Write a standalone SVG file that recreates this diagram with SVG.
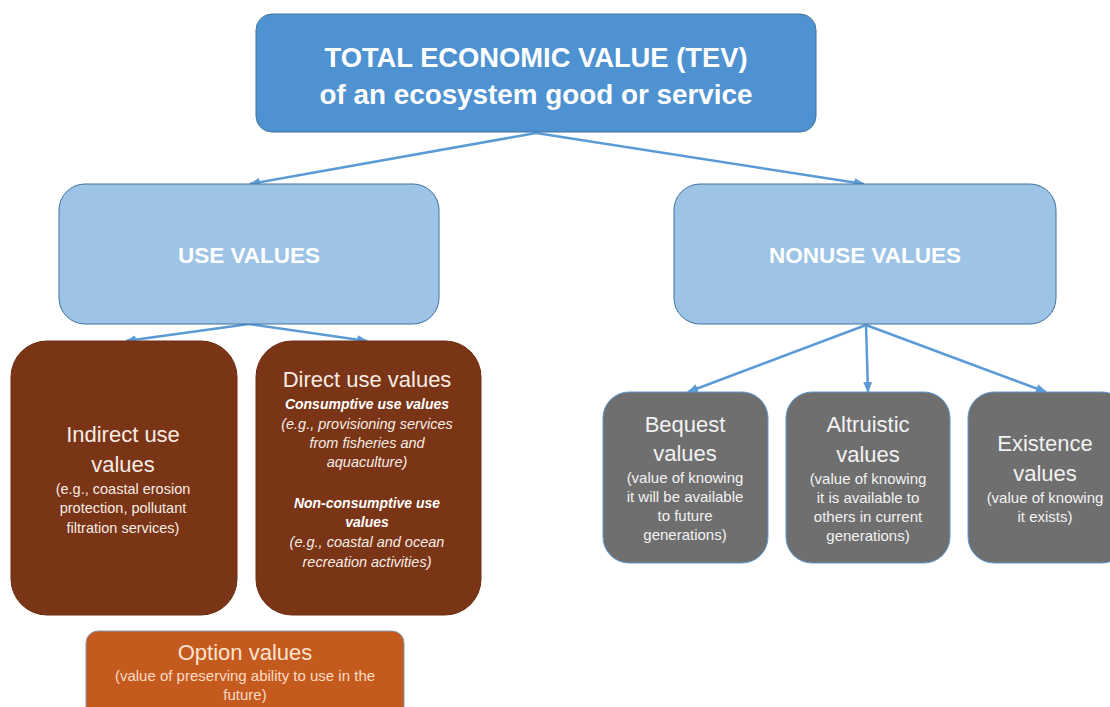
<svg xmlns="http://www.w3.org/2000/svg" width="1110" height="707" viewBox="0 0 1110 707">
<defs>
<marker id="ah" markerUnits="userSpaceOnUse" markerWidth="11" markerHeight="9" refX="10" refY="4.5" orient="auto">
<path d="M0,0 L11,4.5 L0,9 Z" fill="#5B9BD5"/>
</marker>
<style>
text{font-family:"Liberation Sans",Arial,sans-serif;text-anchor:middle}
.tev{fill:#4E92D1;stroke:#41719C;stroke-width:1}
.lb{fill:#9DC3E6;stroke:#41719C;stroke-width:1}
.br{fill:#7A3416;stroke:#6a2c12;stroke-width:1}
.gr{fill:#6F6F6F;stroke:#5B9BD5;stroke-width:1}
.op{fill:#C55A1E;stroke:#8497B0;stroke-width:1}
.t1{font-size:28px;font-weight:bold;fill:#fff}
.t2{font-size:22.5px;font-weight:bold;fill:#fff}
.h{font-size:22px;fill:#F6ECE4}
.hg{font-size:22px;fill:#F2F2F2}
.s{font-size:14.5px;fill:#F6ECE4}
.sg{font-size:15px;fill:#F2F2F2}
.bi{font-size:14px;font-weight:bold;font-style:italic;fill:#fff}
.it{font-size:14.5px;font-style:italic;fill:#F6ECE4}
.ho{font-size:22px;fill:#FBE3D0}
.so{font-size:15px;fill:#FBDCC4}
.c{fill:none;stroke:#5B9BD5;stroke-width:2.5;marker-end:url(#ah)}
</style>
</defs>
<rect width="1110" height="707" fill="#fff"/>
<g id="connectors">
<line class="c" x1="536" y1="133" x2="250" y2="184"/>
<line class="c" x1="536" y1="133" x2="864" y2="184"/>
<line class="c" x1="249" y1="324" x2="126" y2="341"/>
<line class="c" x1="249" y1="324" x2="367" y2="341"/>
<line class="c" x1="866" y1="325" x2="688" y2="392"/>
<line class="c" x1="866" y1="325" x2="868" y2="392"/>
<line class="c" x1="866" y1="325" x2="1046" y2="392"/>
</g>
<g id="tev">
<rect class="tev" x="256" y="14" width="560" height="118" rx="16"/>
<text class="t1" x="536" y="67" textLength="423" lengthAdjust="spacingAndGlyphs">TOTAL ECONOMIC VALUE (TEV)</text>
<text class="t1" x="536" y="104" textLength="433" lengthAdjust="spacingAndGlyphs">of an ecosystem good or service</text>
</g>
<g id="use">
<rect class="lb" x="59" y="184" width="380" height="140" rx="26"/>
<text class="t2" x="249" y="263">USE VALUES</text>
</g>
<g id="nonuse">
<rect class="lb" x="674" y="184" width="382" height="140" rx="26"/>
<text class="t2" x="865" y="263">NONUSE VALUES</text>
</g>
<g id="indirect">
<rect class="br" x="11" y="341" width="226" height="274" rx="36"/>
<text class="h" x="123" y="442">Indirect use</text>
<text class="h" x="123" y="472">values</text>
<text class="s" x="123" y="494">(e.g., coastal erosion</text>
<text class="s" x="123" y="513">protection,  pollutant</text>
<text class="s" x="123" y="533">filtration services)</text>
</g>
<g id="direct">
<rect class="br" x="256" y="341" width="225" height="274" rx="36"/>
<text class="h" x="367" y="387">Direct use values</text>
<text class="bi" x="367" y="409">Consumptive use values</text>
<text class="it" x="367" y="429">(e.g., provisioning services</text>
<text class="it" x="367" y="448">from fisheries and</text>
<text class="it" x="367" y="467">aquaculture)</text>
<text class="bi" x="367" y="508">Non-consumptive use</text>
<text class="bi" x="367" y="527">values</text>
<text class="it" x="367" y="547">(e.g., coastal and ocean</text>
<text class="it" x="367" y="567">recreation activities)</text>
</g>
<g id="option">
<rect class="op" x="86" y="631" width="318" height="90" rx="12"/>
<text class="ho" x="245" y="660">Option values</text>
<text class="so" x="245" y="681">(value of preserving ability to use in the</text>
<text class="so" x="245" y="700">future)</text>
</g>
<g id="bequest">
<rect class="gr" x="603" y="392" width="165" height="171" rx="26"/>
<text class="hg" x="685" y="432">Bequest</text>
<text class="hg" x="685" y="461">values</text>
<text class="sg" x="685" y="483">(value of knowing</text>
<text class="sg" x="685" y="502">it will be available</text>
<text class="sg" x="685" y="521">to future</text>
<text class="sg" x="685" y="540">generations)</text>
</g>
<g id="altruistic">
<rect class="gr" x="786" y="392" width="164" height="171" rx="26"/>
<text class="hg" x="868" y="432">Altruistic</text>
<text class="hg" x="868" y="462">values</text>
<text class="sg" x="868" y="484">(value of knowing</text>
<text class="sg" x="868" y="503">it is available to</text>
<text class="sg" x="868" y="522">others in current</text>
<text class="sg" x="868" y="541">generations)</text>
</g>
<g id="existence">
<rect class="gr" x="968" y="392" width="160" height="171" rx="26"/>
<text class="hg" x="1045" y="451">Existence</text>
<text class="hg" x="1045" y="481">values</text>
<text class="sg" x="1045" y="503">(value of knowing</text>
<text class="sg" x="1045" y="522">it exists)</text>
</g>
</svg>
